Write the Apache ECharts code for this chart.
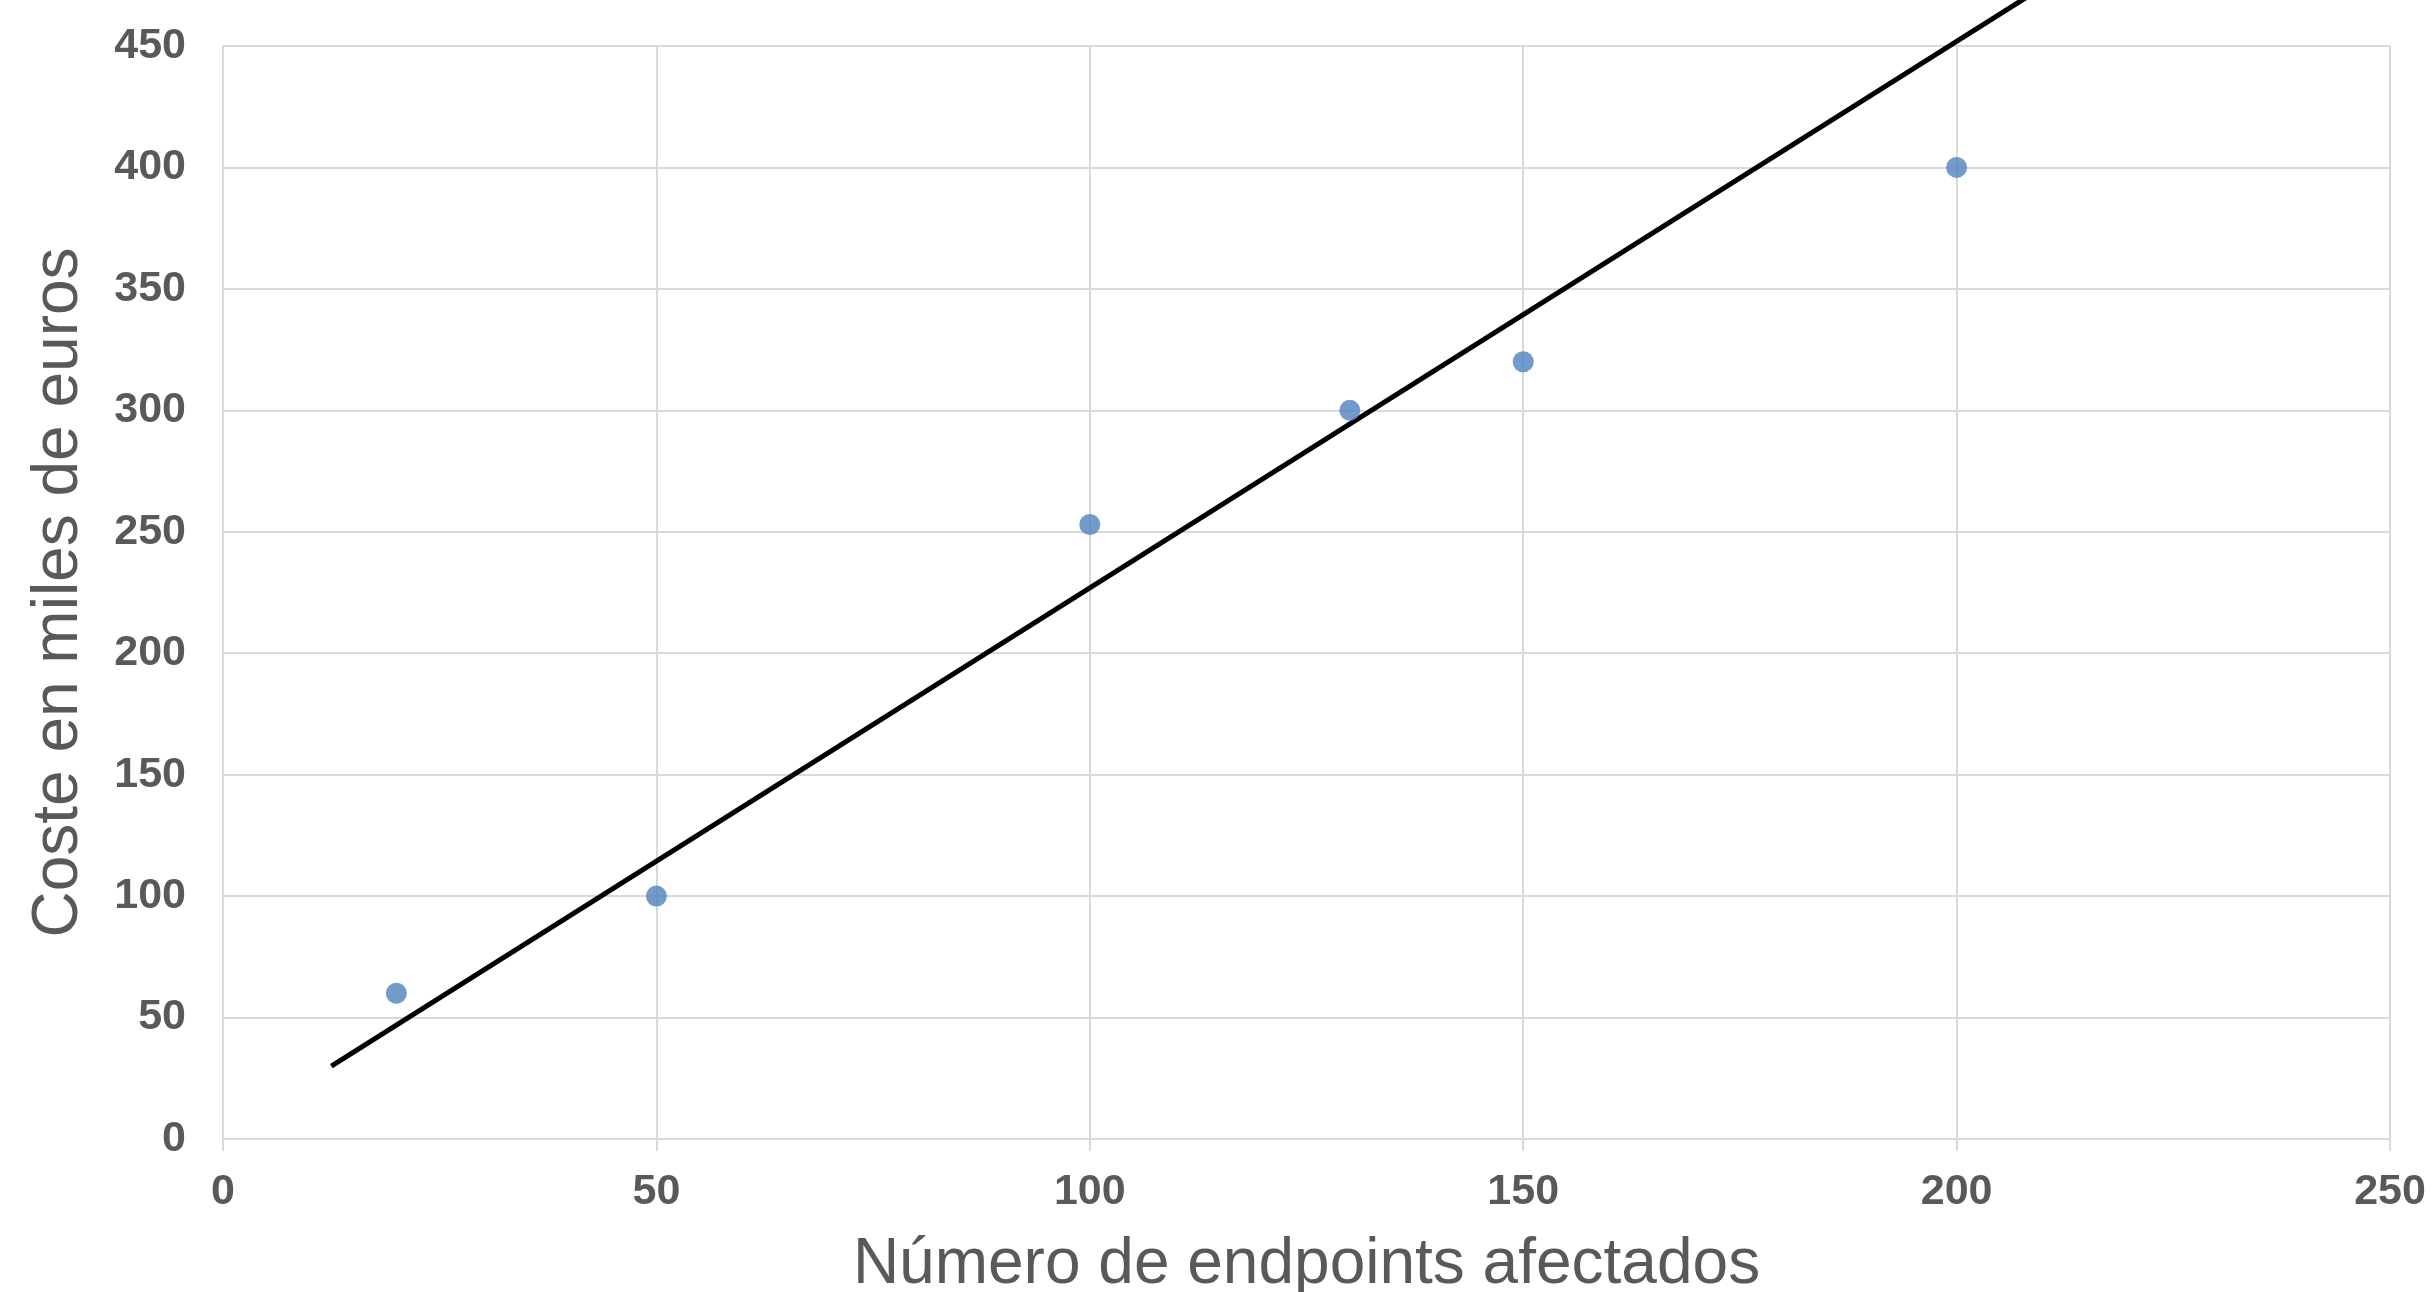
<!DOCTYPE html>
<html>
<head>
<meta charset="utf-8">
<script src="https://cdn.jsdelivr.net/npm/echarts@6/dist/echarts.min.js"></script>
<style>
html,body{margin:0;padding:0;background:#fff;}
#chart{width:2432px;height:1292px;}
</style>
</head>
<body>
<div id="chart"></div>
<script>
const endpoints = [20, 50, 100, 130, 150, 200];
const costs = [60, 100, 253, 300, 320, 400];
const trendX = [12.5, 210];
const trendY = [30, 474.4];
const xTitle = 'Número de endpoints afectados';
const yTitle = 'Coste en miles de euros';

const points = endpoints.map((x, i) => [x, costs[i]]);
const trend = trendX.map((x, i) => [x, trendY[i]]);

const chart = echarts.init(document.getElementById('chart'));
const labelStyle = {color: '#595959', fontSize: 43, fontWeight: 'bold', fontFamily: 'Liberation Sans, Arial, sans-serif'};
const titleStyle = {color: '#595959', fontSize: 64, fontFamily: 'Liberation Sans, Arial, sans-serif'};
chart.setOption({
  animation: false,
  backgroundColor: '#ffffff',
  grid: {left: 223, right: 42, top: 46, bottom: 153, containLabel: false, outerBoundsMode: 'none'},
  xAxis: {
    type: 'value', min: 0, max: 250, interval: 50,
    name: xTitle, nameLocation: 'middle', nameGap: 94, nameTextStyle: titleStyle,
    axisLine: {show: true, lineStyle: {color: '#D9D9D9', width: 2}},
    axisTick: {show: true, length: 12, lineStyle: {color: '#D9D9D9', width: 2}},
    axisLabel: Object.assign({margin: 32}, labelStyle),
    splitLine: {show: true, lineStyle: {color: '#D9D9D9', width: 2}}
  },
  yAxis: {
    type: 'value', min: 0, max: 450, interval: 50,
    name: yTitle, nameLocation: 'middle', nameGap: 132, nameTextStyle: titleStyle,
    axisLine: {show: true, lineStyle: {color: '#D9D9D9', width: 2}},
    axisTick: {show: false},
    axisLabel: Object.assign({margin: 37}, labelStyle),
    splitLine: {show: true, lineStyle: {color: '#D9D9D9', width: 2}}
  },
  series: [
    {
      type: 'line', data: trend, clip: false, showSymbol: false, symbol: 'none',
      lineStyle: {color: '#000000', width: 5}, z: 3
    },
    {
      type: 'scatter', data: points, symbolSize: 21,
      itemStyle: {color: '#4F81BD'}, z: 4
    }
  ]
});
</script>
</body>
</html>
